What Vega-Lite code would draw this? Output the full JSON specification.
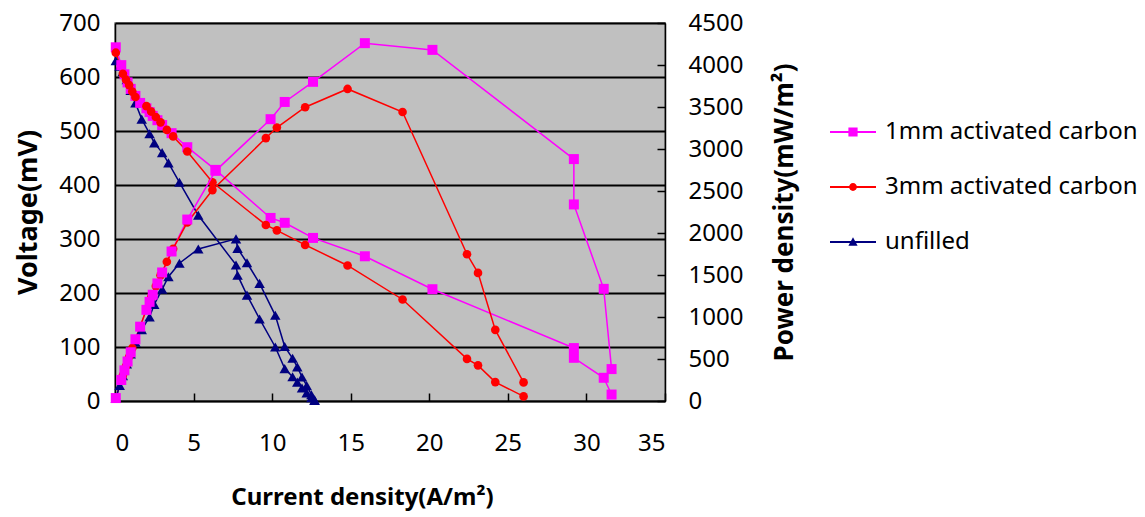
{
  "$schema": "https://vega.github.io/schema/vega-lite/v6.json",
  "width": 550,
  "height": 378,
  "autosize": {"type": "none"},
  "padding": {"left": 115, "top": 23, "right": 480, "bottom": 116},
  "background": "white",
  "datasets": {
    "d": [
      {"s": "1mm activated carbon", "I": 0.05, "V": 655, "P": 35},
      {"s": "1mm activated carbon", "I": 0.4, "V": 622, "P": 250},
      {"s": "1mm activated carbon", "I": 0.6, "V": 605, "P": 365},
      {"s": "1mm activated carbon", "I": 0.8, "V": 590, "P": 470},
      {"s": "1mm activated carbon", "I": 1.0, "V": 578, "P": 580},
      {"s": "1mm activated carbon", "I": 1.3, "V": 565, "P": 735},
      {"s": "1mm activated carbon", "I": 1.6, "V": 552, "P": 885},
      {"s": "1mm activated carbon", "I": 2.0, "V": 542, "P": 1085},
      {"s": "1mm activated carbon", "I": 2.2, "V": 535, "P": 1180},
      {"s": "1mm activated carbon", "I": 2.4, "V": 528, "P": 1265},
      {"s": "1mm activated carbon", "I": 2.7, "V": 520, "P": 1400},
      {"s": "1mm activated carbon", "I": 3.0, "V": 511, "P": 1530},
      {"s": "1mm activated carbon", "I": 3.6, "V": 496, "P": 1780},
      {"s": "1mm activated carbon", "I": 4.6, "V": 470, "P": 2160},
      {"s": "1mm activated carbon", "I": 6.4, "V": 428, "P": 2740},
      {"s": "1mm activated carbon", "I": 9.9, "V": 339, "P": 3355},
      {"s": "1mm activated carbon", "I": 10.8, "V": 330, "P": 3560},
      {"s": "1mm activated carbon", "I": 12.6, "V": 302, "P": 3800},
      {"s": "1mm activated carbon", "I": 15.9, "V": 268, "P": 4260},
      {"s": "1mm activated carbon", "I": 20.2, "V": 207, "P": 4180},
      {"s": "1mm activated carbon", "I": 29.2, "V": 98, "P": 2880},
      {"s": "1mm activated carbon", "I": 29.2, "V": 80, "P": 2340},
      {"s": "1mm activated carbon", "I": 31.1, "V": 43, "P": 1335},
      {"s": "1mm activated carbon", "I": 31.6, "V": 12, "P": 380},
      {"s": "3mm activated carbon", "I": 0.05, "V": 645, "P": 32},
      {"s": "3mm activated carbon", "I": 0.5, "V": 606, "P": 303},
      {"s": "3mm activated carbon", "I": 0.7, "V": 595, "P": 417},
      {"s": "3mm activated carbon", "I": 0.9, "V": 585, "P": 527},
      {"s": "3mm activated carbon", "I": 1.1, "V": 573, "P": 630},
      {"s": "3mm activated carbon", "I": 1.3, "V": 563, "P": 732},
      {"s": "3mm activated carbon", "I": 2.0, "V": 546, "P": 1092},
      {"s": "3mm activated carbon", "I": 2.3, "V": 536, "P": 1233},
      {"s": "3mm activated carbon", "I": 2.6, "V": 526, "P": 1368},
      {"s": "3mm activated carbon", "I": 2.9, "V": 516, "P": 1496},
      {"s": "3mm activated carbon", "I": 3.3, "V": 502, "P": 1657},
      {"s": "3mm activated carbon", "I": 3.7, "V": 490, "P": 1813},
      {"s": "3mm activated carbon", "I": 4.6, "V": 462, "P": 2125},
      {"s": "3mm activated carbon", "I": 6.2, "V": 405, "P": 2511},
      {"s": "3mm activated carbon", "I": 9.6, "V": 326, "P": 3130},
      {"s": "3mm activated carbon", "I": 10.3, "V": 316, "P": 3255},
      {"s": "3mm activated carbon", "I": 12.1, "V": 289, "P": 3497},
      {"s": "3mm activated carbon", "I": 14.8, "V": 251, "P": 3715},
      {"s": "3mm activated carbon", "I": 18.3, "V": 188, "P": 3440},
      {"s": "3mm activated carbon", "I": 22.4, "V": 78, "P": 1747},
      {"s": "3mm activated carbon", "I": 23.1, "V": 66, "P": 1525},
      {"s": "3mm activated carbon", "I": 24.2, "V": 35, "P": 847},
      {"s": "3mm activated carbon", "I": 26.0, "V": 8.5, "P": 221},
      {"s": "unfilled", "I": 0.05, "V": 630, "P": 30},
      {"s": "unfilled", "I": 0.3, "V": 620, "P": 186},
      {"s": "unfilled", "I": 0.5, "V": 610, "P": 300},
      {"s": "unfilled", "I": 0.75, "V": 595, "P": 440},
      {"s": "unfilled", "I": 1.0, "V": 575, "P": 560},
      {"s": "unfilled", "I": 1.3, "V": 552, "P": 700},
      {"s": "unfilled", "I": 1.7, "V": 522, "P": 850},
      {"s": "unfilled", "I": 2.2, "V": 495, "P": 1000},
      {"s": "unfilled", "I": 2.5, "V": 478, "P": 1150},
      {"s": "unfilled", "I": 3.0, "V": 460, "P": 1330},
      {"s": "unfilled", "I": 3.4, "V": 441, "P": 1480},
      {"s": "unfilled", "I": 4.1, "V": 405, "P": 1640},
      {"s": "unfilled", "I": 5.3, "V": 344, "P": 1810},
      {"s": "unfilled", "I": 7.7, "V": 252, "P": 1930},
      {"s": "unfilled", "I": 7.8, "V": 233, "P": 1817},
      {"s": "unfilled", "I": 8.4, "V": 196, "P": 1646},
      {"s": "unfilled", "I": 9.2, "V": 152, "P": 1400},
      {"s": "unfilled", "I": 10.2, "V": 100, "P": 1020},
      {"s": "unfilled", "I": 10.8, "V": 60, "P": 648},
      {"s": "unfilled", "I": 11.3, "V": 45, "P": 508},
      {"s": "unfilled", "I": 11.6, "V": 35, "P": 406},
      {"s": "unfilled", "I": 11.9, "V": 24, "P": 286},
      {"s": "unfilled", "I": 12.2, "V": 15, "P": 183},
      {"s": "unfilled", "I": 12.5, "V": 6, "P": 75},
      {"s": "unfilled", "I": 12.7, "V": 1, "P": 13}
    ]
  },
  "data": {"name": "d"},
  "encoding": {
    "x": {
      "field": "I",
      "type": "quantitative",
      "scale": {"domain": [0, 35], "nice": false},
      "axis": {
        "values": [0, 5, 10, 15, 20, 25, 30, 35],
        "title": "Current density(A/m²)",
        "grid": false,
        "tickSize": -8,
        "labelPadding": 38,
        "titlePadding": 30,
        "titleX": 247,
        "titleAnchor": "middle"
      }
    }
  },
  "layer": [
    {
      "encoding": {
        "y": {
          "field": "V",
          "type": "quantitative",
          "scale": {"domain": [0, 700], "nice": false},
          "axis": {
            "orient": "left",
            "values": [0, 100, 200, 300, 400, 500, 600, 700],
            "title": "Voltage(mV)",
            "titleFontSize": 27,
            "grid": true,
            "gridColor": "#000000",
            "gridWidth": 1.8,
            "gridOpacity": 1,
            "ticks": false,
            "labelPadding": 15,
            "titlePadding": 16
          }
        }
      },
      "layer": [
        {
          "mark": {"type": "line", "strokeWidth": 1.5},
          "encoding": {
            "stroke": {"field": "s", "type": "nominal", "scale": {"range": ["#FF00FF", "#FF0000", "#000080"]}, "legend": null},
            "order": {"value": null}
          }
        },
        {
          "transform": [{"filter": {"field": "s", "equal": "unfilled"}}],
          "mark": {"type": "point", "filled": true, "opacity": 1, "shape": "triangle-up", "size": 110, "color": "#000080"}
        },
        {
          "transform": [{"filter": {"field": "s", "equal": "1mm activated carbon"}}],
          "mark": {"type": "point", "filled": true, "opacity": 1, "shape": "square", "size": 100, "color": "#FF00FF"}
        },
        {
          "transform": [{"filter": {"field": "s", "equal": "3mm activated carbon"}}],
          "mark": {"type": "point", "filled": true, "opacity": 1, "shape": "circle", "size": 75, "color": "#FF0000"}
        }
      ]
    },
    {
      "encoding": {
        "y": {
          "field": "P",
          "type": "quantitative",
          "scale": {"domain": [0, 4500], "nice": false},
          "axis": {
            "orient": "right",
            "values": [0, 500, 1000, 1500, 2000, 2500, 3000, 3500, 4000, 4500],
            "format": "d",
            "title": "Power density(mW/m²)",
            "titleFontSize": 26,
            "titleAngle": 270,
            "titleBaseline": "top",
            "grid": false,
            "tickSize": -8,
            "labelPadding": 31,
            "titlePadding": 29
          }
        }
      },
      "layer": [
        {
          "mark": {"type": "line", "strokeWidth": 1.5},
          "encoding": {
            "stroke": {"field": "s", "type": "nominal", "scale": {"range": ["#FF00FF", "#FF0000", "#000080"]}, "legend": null},
            "order": {"value": null}
          }
        },
        {
          "transform": [{"filter": {"field": "s", "equal": "unfilled"}}],
          "mark": {"type": "point", "filled": true, "opacity": 1, "shape": "triangle-up", "size": 110, "color": "#000080"}
        },
        {
          "transform": [{"filter": {"field": "s", "equal": "3mm activated carbon"}}],
          "mark": {"type": "point", "filled": true, "opacity": 1, "shape": "circle", "size": 75, "color": "#FF0000"}
        },
        {
          "transform": [{"filter": {"field": "s", "equal": "1mm activated carbon"}}],
          "mark": {"type": "point", "filled": true, "opacity": 1, "shape": "square", "size": 100, "color": "#FF00FF"}
        }
      ]
    },
    {
      "mark": {"type": "point", "filled": true, "size": 0},
      "encoding": {
        "color": {
          "field": "s",
          "type": "nominal",
          "scale": {
            "domain": ["1mm activated carbon", "3mm activated carbon", "unfilled"],
            "range": ["#FF00FF", "#FF0000", "#000080"]
          },
          "legend": {
            "orient": "none",
            "legendX": 715,
            "legendY": 86,
            "title": null,
            "labelFont": "Noto Sans",
            "labelFontSize": 24,
            "labelColor": "#000000",
            "labelLimit": 600,
            "labelOffset": 9,
            "rowPadding": 20,
            "symbolSize": 2116,
            "symbolStrokeWidth": 0,
            "symbolOpacity": 1
          }
        },
        "shape": {
          "field": "s",
          "type": "nominal",
          "scale": {
            "domain": ["1mm activated carbon", "3mm activated carbon", "unfilled"],
            "range": [
              "M-1,-0.04H-0.2V-0.2H0.2V-0.04H1V0.04H0.2V0.2H-0.2V0.04H-1Z",
              "M-1,-0.04H1V0.04H-1ZM0.17,0A0.17,0.17,0,1,1,-0.17,0A0.17,0.17,0,1,1,0.17,0Z",
              "M-1,-0.04H1V0.04H-1ZM0,-0.21L0.2,0.16H-0.2Z"
            ]
          },
          "legend": {
            "orient": "none",
            "legendX": 715,
            "legendY": 86,
            "title": null,
            "labelFont": "Noto Sans",
            "labelFontSize": 24,
            "labelColor": "#000000",
            "labelLimit": 600,
            "labelOffset": 9,
            "rowPadding": 20,
            "symbolSize": 2116,
            "symbolStrokeWidth": 0,
            "symbolOpacity": 1
          }
        }
      }
    }
  ],
  "resolve": {"scale": {"y": "independent"}},
  "config": {
    "view": {"fill": "#C0C0C0", "stroke": "#808080", "strokeWidth": 1.5},
    "axis": {
      "labelFont": "Noto Sans",
      "labelFontSize": 24,
      "labelColor": "#000000",
      "titleFont": "Noto Sans",
      "titleFontSize": 24,
      "titleFontWeight": "bold",
      "titleColor": "#000000",
      "domainColor": "#000000",
      "domainWidth": 1.5,
      "tickColor": "#000000",
      "tickWidth": 1.5
    }
  }
}
